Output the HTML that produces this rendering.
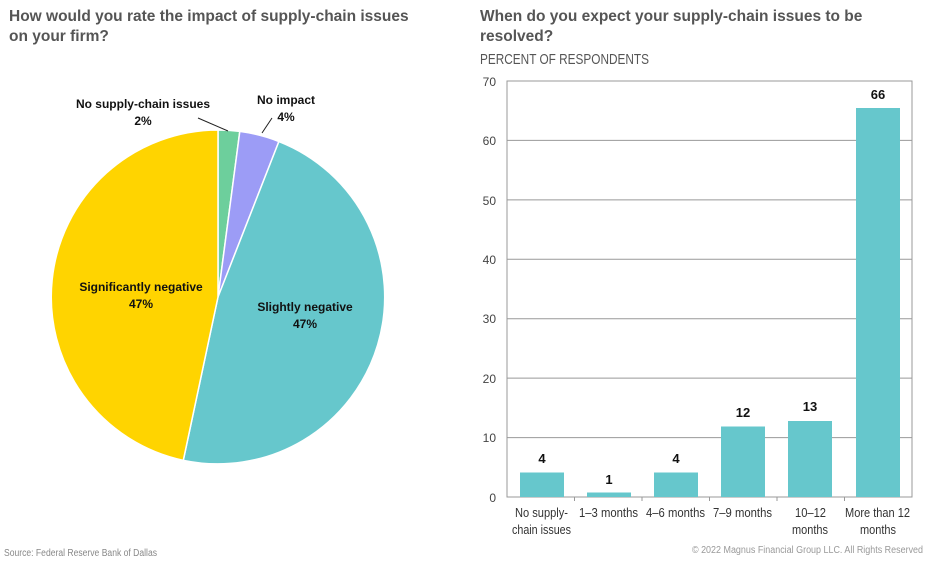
<!DOCTYPE html>
<html><head><meta charset="utf-8"><style>body{margin:0;background:#fff}svg{display:block}</style></head><body>
<svg width="930" height="565" xmlns="http://www.w3.org/2000/svg" font-family="Liberation Sans, sans-serif">
<rect width="930" height="565" fill="#fff"/>
<g font-weight="bold" font-size="15.5" fill="#555">
<text x="9" y="21">How would you rate the impact of supply-chain issues</text>
<text x="9" y="41">on your firm?</text>
<text x="480" y="21">When do you expect your supply-chain issues to be</text>
<text x="480" y="41">resolved?</text>
</g>
<text x="480" y="64" font-size="15" fill="#555" textLength="169" lengthAdjust="spacingAndGlyphs">PERCENT OF RESPONDENTS</text>
<g stroke="#fff" stroke-width="1.5">
<path d="M218,297 L218,130 A167,167 0 0 1 239.8,131.4 Z" fill="#6dcf9c"/>
<path d="M218,297 L239.8,131.4 A167,167 0 0 1 278.9,141.5 Z" fill="#9c9cf6"/>
<path d="M218,297 L278.9,141.5 A167,167 0 0 1 183.3,460.3 Z" fill="#66c7cc"/>
<path d="M218,297 L183.3,460.3 A167,167 0 0 1 218,130 Z" fill="#ffd400"/>
</g>
<g stroke="#222" stroke-width="1"><line x1="198" y1="118" x2="228" y2="131"/><line x1="262" y1="133" x2="272" y2="118"/></g>
<g font-weight="bold" font-size="12" fill="#111" text-anchor="middle">
<text x="143" y="108">No supply-chain issues</text><text x="143" y="125">2%</text>
<text x="286" y="104">No impact</text><text x="286" y="121">4%</text>
<text x="141" y="291">Significantly negative</text><text x="141" y="308">47%</text>
<text x="305" y="311">Slightly negative</text><text x="305" y="328">47%</text>
</g>
<g stroke="#999" stroke-width="1">
<line x1="507" y1="140.4" x2="912" y2="140.4"/><line x1="507" y1="199.9" x2="912" y2="199.9"/>
<line x1="507" y1="259.3" x2="912" y2="259.3"/><line x1="507" y1="318.7" x2="912" y2="318.7"/>
<line x1="507" y1="378.1" x2="912" y2="378.1"/><line x1="507" y1="437.6" x2="912" y2="437.6"/>
<rect x="507" y="81" width="405" height="416" fill="none" stroke="#999"/>
<line x1="574.5" y1="497" x2="574.5" y2="501"/><line x1="642" y1="497" x2="642" y2="501"/>
<line x1="709.5" y1="497" x2="709.5" y2="501"/><line x1="777" y1="497" x2="777" y2="501"/>
<line x1="844.5" y1="497" x2="844.5" y2="501"/>
</g>
<g font-size="12" fill="#444" text-anchor="end">
<text x="496" y="86">70</text><text x="496" y="145">60</text><text x="496" y="205">50</text><text x="496" y="264">40</text>
<text x="496" y="323">30</text><text x="496" y="383">20</text><text x="496" y="442">10</text><text x="496" y="502">0</text>
</g>
<g fill="#66c7cc">
<rect x="520" y="472.5" width="44" height="24.5"/>
<rect x="587" y="492.5" width="44" height="4.5"/>
<rect x="654" y="472.5" width="44" height="24.5"/>
<rect x="721" y="426.5" width="44" height="70.5"/>
<rect x="788" y="421" width="44" height="76"/>
<rect x="856" y="108" width="44" height="389"/>
</g>
<g font-weight="bold" font-size="13" fill="#111" text-anchor="middle">
<text x="542" y="463">4</text><text x="609" y="484">1</text><text x="676" y="463">4</text>
<text x="743" y="417">12</text><text x="810" y="411">13</text><text x="878" y="99">66</text>
</g>
<g font-size="13" fill="#333" lengthAdjust="spacingAndGlyphs">
<text x="515" y="517" textLength="53" lengthAdjust="spacingAndGlyphs">No supply-</text>
<text x="512" y="534" textLength="59" lengthAdjust="spacingAndGlyphs">chain issues</text>
<text x="579" y="517" textLength="59" lengthAdjust="spacingAndGlyphs">1–3 months</text>
<text x="646" y="517" textLength="59" lengthAdjust="spacingAndGlyphs">4–6 months</text>
<text x="713" y="517" textLength="59" lengthAdjust="spacingAndGlyphs">7–9 months</text>
<text x="795" y="517" textLength="31" lengthAdjust="spacingAndGlyphs">10–12</text>
<text x="792" y="534" textLength="36" lengthAdjust="spacingAndGlyphs">months</text>
<text x="845" y="517" textLength="65" lengthAdjust="spacingAndGlyphs">More than 12</text>
<text x="860" y="534" textLength="36" lengthAdjust="spacingAndGlyphs">months</text>
</g>
<text x="4" y="556" font-size="10" fill="#888" textLength="153" lengthAdjust="spacingAndGlyphs">Source: Federal Reserve Bank of Dallas</text>
<text x="692" y="553" font-size="10" fill="#999" textLength="231" lengthAdjust="spacingAndGlyphs">© 2022 Magnus Financial Group LLC. All Rights Reserved</text>
</svg>
</body></html>
